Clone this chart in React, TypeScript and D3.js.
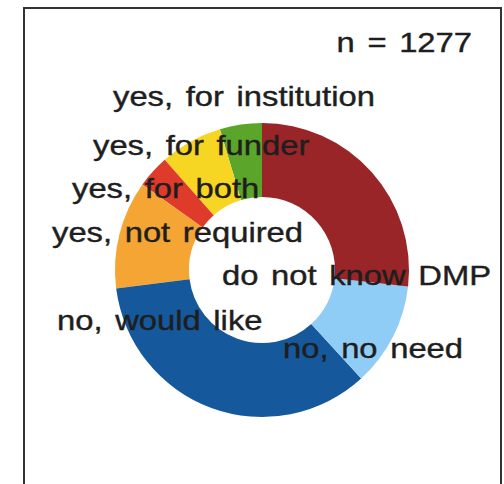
import React from "react";
import * as d3 from "d3";

const categories = [
  "yes, for institution",
  "yes, for funder",
  "yes, for both",
  "yes, not required",
  "no, would like",
  "no, no need",
  "do not know DMP",
];
const counts = [59, 88, 46, 152, 444, 146, 342];
const colors = ["#5aa52a", "#f6d523", "#de3b2b", "#f4a533", "#15599c", "#90cdf6", "#9a2528"];
const nLabel = "n = 1277";

// label anchor offsets (left/baseline) relative to donut centre, in px
const labelOffsets: [number, number][] = [
  [-149, -164],
  [-169, -115],
  [-190, -72],
  [-210, -28],
  [-205, 60],
  [21, 88],
  [-40, 15],
];

const W = 504;
const H = 484;
const cx = 262;
const cy = 270;
const R = 147;
const r0 = 73;
const FONT = "'Liberation Sans', Arial, Helvetica, sans-serif";
const FS = 28;
const SX = 1.17;

export default function App() {
  const pie = d3
    .pie<number>()
    .sort(null)
    .value((d) => d)
    .startAngle(0)
    .endAngle(-2 * Math.PI);
  const arcs = pie(counts);
  const arc = d3.arc<d3.PieArcDatum<number>>().innerRadius(r0).outerRadius(R);

  return (
    <svg
      width={W}
      height={H}
      style={{ position: "absolute", left: 0, top: 0, background: "#fff" }}
    >
      <rect x={0} y={0} width={W} height={H} fill="#fff" />
      <rect x={24} y={8} width={477} height={490} fill="#fff" stroke="#333" strokeWidth={2} />
      <g transform={`translate(${cx},${cy})`}>
        {arcs.map((a, i) => (
          <path key={i} d={arc(a) || ""} fill={colors[i]} />
        ))}
      </g>
      <g
        fontFamily={FONT}
        fontSize={FS}
        fill="#1e1e1e"
        stroke="#1e1e1e"
        strokeWidth={0.4}
        style={{ wordSpacing: "3px" }}
      >
        {categories.map((c, i) => (
          <text
            key={c}
            transform={`translate(${cx + labelOffsets[i][0]},${cy + labelOffsets[i][1]}) scale(${SX},1)`}
          >
            {c}
          </text>
        ))}
        <text transform={`translate(472,52) scale(${SX},1)`} textAnchor="end">
          {nLabel}
        </text>
      </g>
    </svg>
  );
}
